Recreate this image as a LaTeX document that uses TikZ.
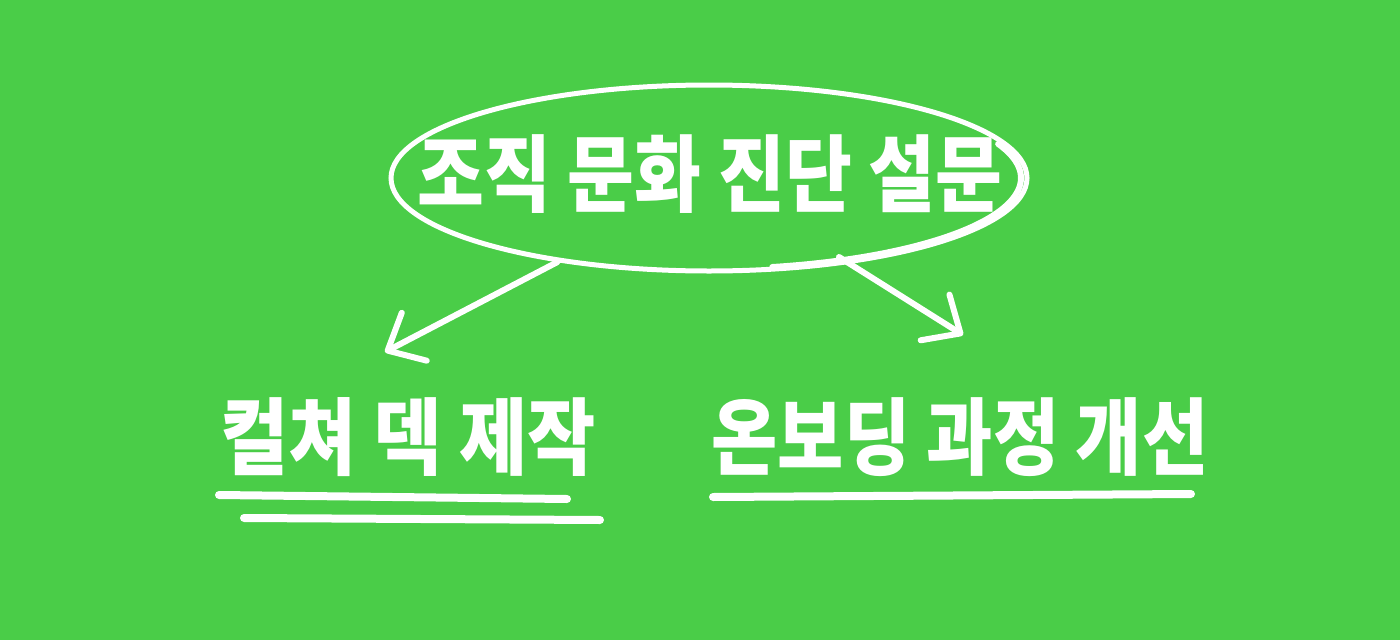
\documentclass[tikz,border=0pt]{standalone}
\usepackage{fontspec}
\usepackage{graphicx}
\usetikzlibrary{shapes.geometric,arrows.meta}
\newfontfamily\kr{Noto Sans CJK KR}
\definecolor{bggreen}{HTML}{4ACD48}
\tikzset{
  oval/.style={draw=white, line width=5pt, ellipse, minimum width=636pt, minimum height=186pt, inner sep=0pt},
  title/.style={text=white, font=\kr\bfseries\fontsize{84}{84}\selectfont, inner sep=0pt},
  label/.style={text=white, font=\kr\bfseries\fontsize{84}{84}\selectfont, inner sep=0pt},
  conn/.style={draw=white, line width=6pt, line cap=round, line join=round,
    -{Straight Barb[length=30pt, width=54pt, line cap=round, line join=round]}},
  uline/.style={draw=white, line width=8pt, line cap=round},
  stroke/.style={draw=white, line width=6pt, line cap=round},
}
\begin{document}
\begin{tikzpicture}[x=1pt, y=-1pt]
\fill[bggreen] (0,0) rectangle (1400,640);
\useasboundingbox (0,0) rectangle (1400,640);
\node[oval] (oval) at (709,178) {};
\draw[stroke] (707,178) ++(-22:314 and 91) arc[start angle=-22, end angle=78, x radius=314, y radius=91];
\node[title] (survey) at (710,174) {\scalebox{0.865}[1]{조직 문화 진단 설문}};
\node[label] (deck) at (408,437) {\scalebox{0.883}[1]{컬쳐 덱 제작}};
\node[label] (onboard) at (960,437) {\scalebox{0.857}[1]{온보딩 과정 개선}};
\coordinate (tipL) at (385,352);
\coordinate (tipR) at (963,335);
\coordinate (startR) at (839,257);
\draw[conn] (oval.209) -- (tipL);
\draw[conn] (startR) -- (tipR);
\coordinate (u1a) at (219,495); \coordinate (u1b) at (567,499);
\coordinate (u2a) at (244,518); \coordinate (u2b) at (600,520);
\coordinate (u3a) at (713,497); \coordinate (u3b) at (1191,494);
\draw[uline] (u1a) -- (u1b);
\draw[uline] (u2a) -- (u2b);
\draw[uline] (u3a) -- (u3b);
\end{tikzpicture}
\end{document}
